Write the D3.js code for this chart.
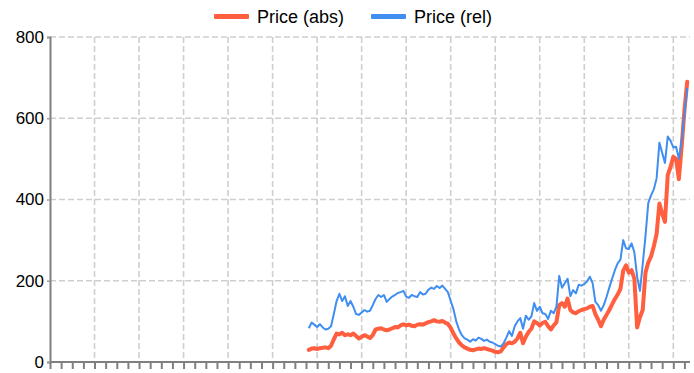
<!DOCTYPE html>
<html><head><meta charset="utf-8">
<script src="https://cdn.jsdelivr.net/npm/d3@7"></script>
<style>html,body{margin:0;padding:0;background:#fff;} svg{display:block;font-family:"Liberation Sans",Arial,sans-serif;}</style>
</head><body><svg id="chart" width="694" height="373"></svg>
<script>
const seriesNames = ["Price (abs)", "Price (rel)"];
const seriesColors = ["#ff5e3f", "#3f8ef0"];
const xDomain = [1962, 2019.5];
const firstQuarter = 1985.25;
const yTicks = [0, 200, 400, 600, 800];
const priceAbs = [
30,33,34,32,34,35,36,34,40,56,70,68,72,66,68,66,70,64,58,62,
66,63,59,66,80,82,83,80,78,80,83,86,85,90,93,90,92,89,88,92,
93,92,95,98,100,103,100,99,101,97,94,84,70,58,48,41,36,33,30,29,
31,33,32,34,32,30,28,25,24,26,36,44,48,46,50,58,72,46,62,74,
82,100,96,90,96,99,88,80,90,98,140,145,136,156,128,122,120,125,128,130,
132,136,138,118,104,88,104,116,128,142,155,166,180,225,238,220,226,205,85,110,
128,220,245,260,285,315,390,365,345,460,480,505,500,450,530,620,690];
const priceRel = [
83,97,92,86,93,85,80,82,88,118,150,168,150,162,138,150,136,118,116,122,
128,124,126,140,155,165,160,165,148,155,161,165,170,172,175,161,158,165,162,160,
172,166,168,178,183,180,187,182,188,180,172,150,130,100,80,66,58,55,50,56,
53,60,57,52,55,50,48,44,40,38,46,60,76,64,88,100,108,82,114,104,
112,145,126,136,120,118,106,126,120,136,212,183,194,205,162,177,169,190,188,192,
198,210,194,148,140,126,140,160,183,205,226,243,252,300,280,278,292,270,210,175,
240,310,391,410,425,452,540,515,490,555,545,528,530,500,545,610,675];

(function () {
const svg = d3.select("#chart");
const mLeft = 50, mRight = 690, mTop = 37, mBottom = 362;
const x = d3.scaleLinear().domain(xDomain).range([mLeft, mRight]);
const y = d3.scaleLinear().domain([0, 800]).range([mBottom, mTop]);
const years = priceAbs.map((_, i) => firstQuarter + i * 0.25);
const yearTicks = d3.range(xDomain[0], Math.floor(xDomain[1]) + 1);
const gridYears = yearTicks.filter(t => t > xDomain[0] && (t - xDomain[0]) % 4 === 0);

// grid
const grid = svg.append("g").attr("stroke", "#cfcfcf").attr("stroke-width", 1.6).attr("stroke-dasharray", "6,3");
grid.selectAll("line.h").data(yTicks.filter(d => d > 0)).join("line").attr("class", "h")
  .attr("x1", mLeft).attr("x2", mRight).attr("y1", d => y(d)).attr("y2", d => y(d));
grid.selectAll("line.v").data(gridYears).join("line").attr("class", "v")
  .attr("x1", d => x(d)).attr("x2", d => x(d)).attr("y1", mTop).attr("y2", mBottom);

// y axis
const yAxis = svg.append("g").attr("transform", `translate(${mLeft},0)`)
  .call(d3.axisLeft(y).tickValues(yTicks).tickSize(3).tickPadding(3));
yAxis.select(".domain").attr("stroke", "#808080").attr("stroke-width", 2);
yAxis.selectAll(".tick line").attr("stroke", "#a0a0a0").attr("stroke-width", 1.5);
yAxis.selectAll("text").attr("font-size", 17).attr("fill", "#000")
  .attr("font-family", "Liberation Sans, Arial, sans-serif");

// x axis
const xAxis = svg.append("g").attr("transform", `translate(0,${mBottom})`)
  .call(d3.axisBottom(x).tickValues(yearTicks).tickSize(7).tickFormat(""));
xAxis.select(".domain").attr("stroke", "#808080").attr("stroke-width", 2).attr("d", `M${mLeft},0H${mRight}`);
xAxis.selectAll(".tick line").attr("stroke", "#808080").attr("stroke-width", 2);

// lines
const line = vals => d3.line().x((d, i) => x(years[i])).y(d => y(d))(vals);
svg.append("path").attr("d", line(priceAbs)).attr("fill", "none")
  .attr("stroke", seriesColors[0]).attr("stroke-width", 4).attr("stroke-linejoin", "round").attr("stroke-linecap", "round");
svg.append("path").attr("d", line(priceRel)).attr("fill", "none")
  .attr("stroke", seriesColors[1]).attr("stroke-width", 2).attr("stroke-linejoin", "round");

// legend
const legendItems = [{name: seriesNames[0], color: seriesColors[0], x: 214}, {name: seriesNames[1], color: seriesColors[1], x: 371}];
const lg = svg.append("g");
legendItems.forEach(it => {
  lg.append("rect").attr("x", it.x).attr("y", 14).attr("width", 35).attr("height", 5).attr("rx", 1).attr("fill", it.color);
  lg.append("text").attr("x", it.x + 43).attr("y", 23).attr("font-size", 18).attr("fill", "#000").text(it.name);
});
})();
</script></body></html>
